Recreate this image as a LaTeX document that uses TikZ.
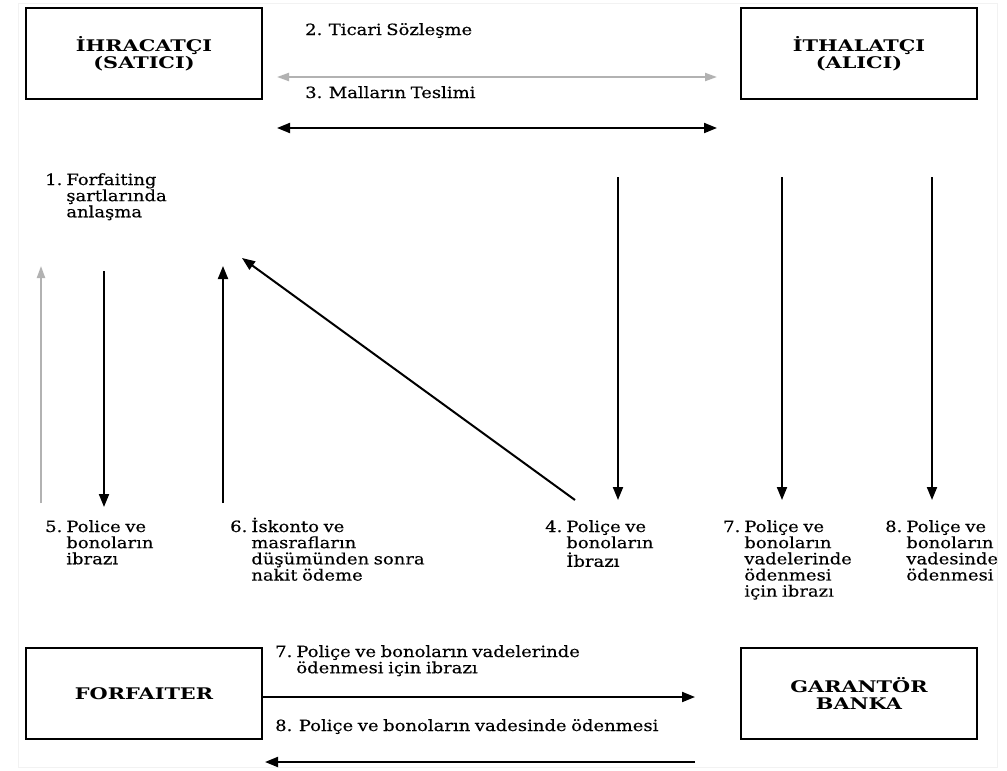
\documentclass[tikz,border=0pt]{standalone}
\usepackage{fontspec}
\setmainfont{DejaVu Serif}[FakeStretch=1.16, FakeBold=0.35, WordSpace=0.8]
\newfontfamily\titlefont{DejaVu Serif}[FakeStretch=1.3]
\usetikzlibrary{arrows.meta}
\tikzset{
  actor/.style={draw, line width=1.8pt, minimum width=236pt, minimum height=91pt,
    inner sep=0pt, outer sep=0pt, align=center, font=\titlefont\fontsize{16}{16.5}\selectfont\bfseries},
  blk/.style={line width=2pt, -{Triangle[length=13pt,width=10pt]}},
  blkboth/.style={line width=2pt, {Triangle[length=13pt,width=10pt]}-{Triangle[length=13pt,width=10pt]}},
  gry/.style={line width=2pt, draw=gray!60, -{Triangle[length=12pt,width=8pt,fill=gray!60]}},
  gryboth/.style={line width=2pt, draw=gray!60, {Triangle[length=12pt,width=8pt,fill=gray!60]}-{Triangle[length=12pt,width=8pt,fill=gray!60]}},
  lbl/.style={anchor=base west, inner sep=0pt, font=\fontsize{15.5}{14.5}\selectfont},
}
\newcommand\numlbl[2]{\begin{tabular}[t]{@{}l@{\hspace{4pt}}l@{}}#1&#2\end{tabular}}
\begin{document}
\begin{tikzpicture}[x=1pt,y=-1pt]
\useasboundingbox (0,0) rectangle (1007,771);
\fill[white] (0,0) rectangle (1007,771);
\draw[gray!10, line width=1pt] (18,3) rectangle (997,767);

% boxes
\node[actor] (ihr) at (144,53.5) {İHRACATÇI\\(SATICI)};
\node[actor] (ith) at (859,53.5) {İTHALATÇI\\(ALICI)};
\node[actor] (forf) at (144,693.5) {FORFAITER};
\node[actor] (gar) at (859,693.5) {GARANTÖR\\BANKA};

% top texts
\node[lbl] (t2) at (305,35) {2. Ticari Sözleşme};
\node[lbl] (t3) at (305,98) {3. Malların Teslimi};

% top arrows
\coordinate (ga) at (277,77);  \coordinate (gb) at (717,77);
\coordinate (ba) at (277,128); \coordinate (bb) at (717,128);
\draw[gryboth] (ga) -- (gb);
\draw[blkboth] (ba) -- (bb);

% label 1
\node[lbl] (l1) at (45,185) {\numlbl{1.}{Forfaiting\\ & şartlarında\\ & anlaşma}};

% vertical arrows on left
\coordinate (g1b) at (41,503);  \coordinate (g1t) at (41,266);
\coordinate (d5t) at (104,271); \coordinate (d5b) at (104,507);
\coordinate (u6b) at (223,503); \coordinate (u6t) at (223,266);
\coordinate (diagb) at (575,500); \coordinate (diagt) at (242,258);
\draw[gry] (g1b) -- (g1t);
\draw[blk] (d5t) -- (d5b);
\draw[blk] (u6b) -- (u6t);
\draw[blk] (diagb) -- (diagt);

% vertical arrows on right
\coordinate (d4t) at (618,177); \coordinate (d4b) at (618,500);
\coordinate (d7t) at (782,177); \coordinate (d7b) at (782,500);
\coordinate (d8t) at (932,177); \coordinate (d8b) at (932,500);
\draw[blk] (d4t) -- (d4b);
\draw[blk] (d7t) -- (d7b);
\draw[blk] (d8t) -- (d8b);

% middle labels
\node[lbl] (l5) at (45,532) {\numlbl{5.}{Police ve\\ & bonoların\\ & ibrazı}};
\node[lbl] (l6) at (230,532) {\numlbl{6.}{İskonto ve\\ & masrafların\\ & düşümünden sonra\\ & nakit ödeme}};
\node[lbl] (l4) at (545,532) {\numlbl{4.}{Poliçe ve\\ & bonoların\\ & İbrazı}};
\node[lbl] (l7) at (723,532) {\numlbl{7.}{Poliçe ve\\ & bonoların\\ & vadelerinde\\ & ödenmesi\\ & için ibrazı}};
\node[lbl] (l8) at (885,532) {\numlbl{8.}{Poliçe ve\\ & bonoların\\ & vadesinde\\ & ödenmesi}};

% bottom
\node[lbl] (b7) at (275,657) {\numlbl{7.}{Poliçe ve bonoların vadelerinde\\ & ödenmesi için ibrazı}};
\node[lbl] (b8) at (275,731) {8. Poliçe ve bonoların vadesinde ödenmesi};
\coordinate (r7) at (695,697);
\coordinate (l8s) at (695,762); \coordinate (l8e) at (265,762);
\draw[blk] (forf.east |- r7) -- (r7);
\draw[blk] (l8s) -- (l8e);
\end{tikzpicture}
\end{document}
